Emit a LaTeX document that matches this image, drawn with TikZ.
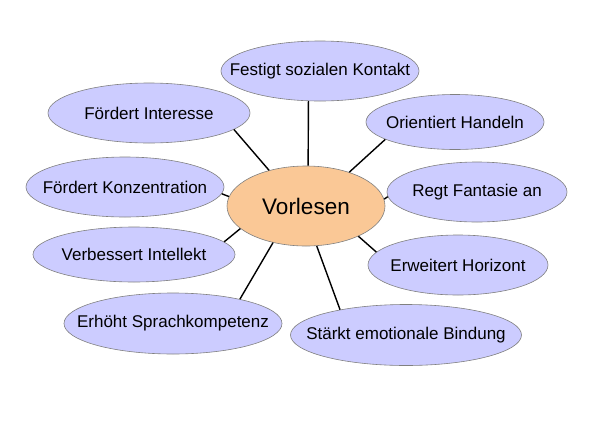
\documentclass[tikz,border=0pt]{standalone}
\usepackage{fontspec}
\setmainfont{Liberation Sans}
\usetikzlibrary{shapes.geometric}

\definecolor{ovalblue}{RGB}{204,204,255}
\definecolor{ovalpeach}{RGB}{250,200,150}
\newcommand{\ovaltext}[1]{\makebox[0pt]{#1}}

\tikzset{
  oval/.style={ellipse, draw=gray, line width=0.6pt, fill=ovalblue, inner sep=0pt,
    font=\fontsize{17}{20}\selectfont},
  hub/.style={oval, fill=ovalpeach, font=\fontsize{22.5}{26}\selectfont},
  spoke/.style={line width=1.4pt}
}

\begin{document}
\begin{tikzpicture}[x=1pt,y=-1pt]
        \useasboundingbox (0,0) rectangle (600,424);

        \node[hub, minimum width=158pt, minimum height=80pt] (vor) at (306,206) {\ovaltext{Vorlesen}};

        \node[oval, minimum width=198pt, minimum height=60pt] (fest) at (320,71) {\ovaltext{Festigt sozialen Kontakt}};
        \node[oval, minimum width=202pt, minimum height=60pt] (inter) at (149,113) {\ovaltext{Fördert Interesse}};
        \node[oval, minimum width=178pt, minimum height=55pt] (orient) at (455,122) {\ovaltext{Orientiert Handeln}};
        \node[oval, minimum width=198pt, minimum height=60pt] (konz) at (125,187) {\ovaltext{Fördert Konzentration}};
        \node[oval, minimum width=180pt, minimum height=60pt] (regt) at (477,192) {\ovaltext{Regt Fantasie an}};
        \node[oval, minimum width=202pt, minimum height=55pt] (intel) at (134,254.5) {\ovaltext{Verbessert Intellekt}};
        \node[oval, minimum width=180pt, minimum height=60pt] (horiz) at (458,265) {\ovaltext{Erweitert Horizont}};
        \node[oval, minimum width=218pt, minimum height=61pt] (sprach) at (173,323.5) {\ovaltext{Erhöht Sprachkompetenz}};
        \node[oval, minimum width=231pt, minimum height=61pt] (bind) at (406,335) {\ovaltext{Stärkt emotionale Bindung}};

        \draw[spoke] (vor.87) -- (fest.249);
        \draw[spoke] (vor.38.5) -- (orient.194);
        \draw[spoke] (vor.5) -- (regt.183);
        \draw[spoke] (vor.330) -- (horiz.171);
        \draw[spoke] (vor.285) -- (bind.159);
        \draw[spoke] (vor.228) -- (sprach.20);
        \draw[spoke] (vor.199) -- (intel.8);
        \draw[spoke] (vor.173) -- (konz.356.5);
        \draw[spoke] (vor.136.5) -- (inter.349);
\end{tikzpicture}
\end{document}
